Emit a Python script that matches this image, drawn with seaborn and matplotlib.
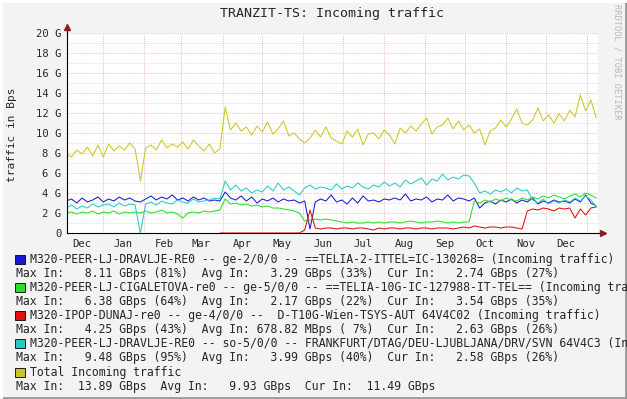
import numpy as np
import pandas as pd
import seaborn as sns
import matplotlib.pyplot as plt
from matplotlib.lines import Line2D
from matplotlib.patches import Rectangle

nan = np.nan

# one sample every 4 days, values in GBps
dates = pd.date_range('2012-12-04', periods=101, freq='4D')

blue = [3.2, 3.4, 3.0, 3.5, 3.1, 3.3, 3.6, 3.1, 3.4, 3.2, 3.6, 3.3, 3.5, 3.2, 3.1, 3.4, 3.7, 3.3, 3.6, 3.4,
        3.8, 3.3, 3.5, 3.2, 3.6, 3.3, 3.5, 3.2, 3.3,
        3.2, 4.1, 3.5, 3.3, 3.7, 3.2, 3.6, 3.0, 3.4, 3.2, 3.5, 3.1, 3.4, 3.2, 3.3, 3.0, 3.2, 0.4, 3.1, 3.4,
        3.2, 3.8,
        3.1, 3.3, 2.9, 3.5, 3.0, 3.7, 3.2, 3.3, 3.1, 3.4, 3.3, 3.5, 3.3, 3.9, 3.2, 3.4, 3.3, 3.6, 3.1, 3.4,
        3.3, 3.8, 3.2, 3.5, 3.4, 3.2, 3.5,
        2.5, 3.0, 3.2, 2.9, 3.3, 3.1, 3.4, 3.0, 3.3, 3.1, 3.5, 2.9, 3.2, 3.0, 3.3, 3.1, 3.2, 3.0, 3.4, 3.1,
        3.8, 3.0, 2.7]

green = [2.0, 2.1, 1.9, 2.1, 2.0, 2.2, 1.9, 2.1, 2.0, 2.2, 1.9, 2.1, 2.0, 2.1, 2.0, 2.2, 2.0, 2.1, 2.3, 2.0,
         2.1, 1.9, 1.5, 2.0, 2.1, 2.0, 2.2, 2.1, 2.2,
         2.3, 3.4, 2.9, 3.0, 2.8, 2.9, 2.7, 2.8, 2.6, 2.7, 2.5, 2.5, 2.4, 2.3, 2.2, 2.0, 1.2, 1.3, 1.4, 1.3,
         1.4, 1.3, 1.2, 1.1,
         1.0, 1.1, 1.0, 1.0, 1.1, 1.0, 1.1, 1.0, 1.1, 1.1, 1.0, 1.1, 1.2, 1.1, 1.0, 1.1, 1.1, 1.2, 1.1, 1.0,
         1.1, 1.0, 1.1, 1.1,
         3.2, 3.0, 3.3, 3.1, 3.4, 3.2, 3.5, 3.3, 3.2, 3.5, 3.3, 3.6, 3.4, 3.7, 3.5, 3.8, 3.6, 3.4, 3.7, 3.9,
         3.6, 4.0, 3.8, 3.5]

red = [nan, nan, nan, nan, nan, nan, nan, nan, nan, nan, nan, nan, nan, nan, nan, nan, nan, nan, nan, nan,
       nan, nan, nan, nan, nan, nan, nan, nan, nan,
       0.0, 0.0, 0.0, 0.0, 0.0, 0.0, 0.0, 0.0, 0.0, 0.0, 0.0, 0.0, 0.0, 0.0, 0.0, 0.0,
       0.3, 2.3,
       0.5, 0.4, 0.5, 0.5, 0.4, 0.5, 0.5, 0.4, 0.5, 0.5, 0.4, 0.3, 0.5, 0.4, 0.5, 0.5, 0.4, 0.5, 0.5, 0.4,
       0.5, 0.5, 0.4, 0.5, 0.5, 0.5, 0.4, 0.5, 0.6, 0.5, 0.7, 0.6, 0.5, 0.6, 0.6, 0.5, 0.6, 0.6, 0.5, 0.4,
       2.2, 2.4, 2.3, 2.5, 2.4, 2.2, 2.5, 2.4, 2.5, 1.5, 2.4, 1.8, 2.5, 2.6]

cyan = [2.5, 2.8, 2.4, 2.7, 2.5, 2.9, 2.6, 2.8, 2.9, 2.6, 3.0, 2.7, 2.9, 2.8,
        0.0,
        2.9, 3.1, 2.8, 3.2, 3.0, 2.9, 3.3, 3.1, 3.0, 3.4, 3.1, 3.2, 3.3, 3.5,
        3.4, 5.2, 4.3, 4.8, 4.2, 4.5, 4.0, 4.3, 4.1, 4.7, 4.2, 5.0, 4.3, 4.6, 4.2, 3.8, 4.5, 4.8, 4.4, 4.6,
        4.5, 4.3,
        4.9, 4.4, 4.7, 4.5, 5.0, 4.6, 4.4, 4.8, 4.6, 5.1, 4.7, 5.0, 4.6, 5.3, 4.9, 5.2, 5.5, 4.8, 5.4, 5.2,
        5.9, 5.3, 5.6, 5.4, 5.8, 5.7,
        5.0, 4.0, 4.2, 3.9, 4.3, 4.1, 4.4, 4.0, 4.5, 4.2, 4.3, 3.3, 3.0, 3.4, 2.9, 3.2, 3.0, 3.3, 3.1, 3.5,
        3.2, 3.7, 3.3, 2.6]

total = [8.0, 7.6, 8.3, 7.9, 8.6, 7.7, 8.8, 7.6, 8.9, 8.2, 8.7, 8.3, 9.0, 8.4,
         5.2,
         8.5, 8.8, 8.3, 9.3, 8.5, 8.9, 8.6, 9.1, 8.4, 9.3, 8.7, 8.2, 8.9, 8.0,
         8.4,
         12.6, 10.3, 11.0, 10.2, 10.6, 9.8, 10.7, 10.1, 11.1, 9.9, 10.4, 11.2, 9.7, 10.0, 9.4, 9.0, 9.5,
         10.3, 9.6, 10.6, 9.5,
         9.2, 8.9, 10.2, 9.6, 10.4, 8.8, 9.9, 10.0, 9.4, 10.3, 9.8, 8.9, 10.5, 10.0, 10.7, 10.2, 10.9, 11.5,
         9.9, 10.6, 10.8, 11.5, 10.4, 11.2, 10.3, 10.8,
         10.0, 10.4, 8.8, 10.2, 10.5, 11.3, 10.6, 11.4, 12.4, 11.0, 10.8, 11.3, 12.5, 11.2, 11.8, 11.0,
         11.9, 11.2, 12.3, 11.6, 13.8, 12.2, 13.3, 11.5]

for s in (blue, green, red, cyan, total):
    assert len(s) == len(dates), len(s)

series_names = ['dravlje_ge', 'cigaletova', 'dunaj', 'dravlje_so', 'total']
series_colors = ['#1818D8', '#2ADD2A', '#E01010', '#2CC8C8', '#CCC624']

legend_labels = [
    "M320-PEER-LJ-DRAVLJE-RE0 -- ge-2/0/0 -- ==TELIA-2-ITTEL=IC-130268= (Incoming traffic)",
    "M320-PEER-LJ-CIGALETOVA-re0 -- ge-5/0/0 -- ==TELIA-10G-IC-127988-IT-TEL== (Incoming traffic)",
    "M320-IPOP-DUNAJ-re0 -- ge-4/0/0 --  D-T10G-Wien-TSYS-AUT 64V4C02 (Incoming traffic)",
    "M320-PEER-LJ-DRAVLJE-RE0 -- so-5/0/0 -- FRANKFURT/DTAG/DEU-LJUBLJANA/DRV/SVN 64V4C3 (Incoming traffic)",
    "Total Incoming traffic",
]
legend_stats = [
    "Max In:   8.11 GBps (81%)  Avg In:   3.29 GBps (33%)  Cur In:   2.74 GBps (27%)",
    "Max In:   6.38 GBps (64%)  Avg In:   2.17 GBps (22%)  Cur In:   3.54 GBps (35%)",
    "Max In:   4.25 GBps (43%)  Avg In: 678.82 MBps ( 7%)  Cur In:   2.63 GBps (26%)",
    "Max In:   9.48 GBps (95%)  Avg In:   3.99 GBps (40%)  Cur In:   2.58 GBps (26%)",
    "Max In:  13.89 GBps  Avg In:   9.93 GBps  Cur In:  11.49 GBps",
]

month_labels = ['Dec', 'Jan', 'Feb', 'Mar', 'Apr', 'May', 'Jun', 'Jul', 'Aug', 'Sep', 'Oct', 'Nov', 'Dec']
y_ticks = [0, 2, 4, 6, 8, 10, 12, 14, 16, 18, 20]
y_tick_labels = ['0', '2 G', '4 G', '6 G', '8 G', '10 G', '12 G', '14 G', '16 G', '18 G', '20 G']

# long format for seaborn
df = pd.DataFrame({'date': dates, 'dravlje_ge': blue, 'cigaletova': green, 'dunaj': red,
                   'dravlje_so': cyan, 'total': total})
df = df.melt(id_vars='date', var_name='series', value_name='gbps')

sns.set_style("white")
plt.rcParams['font.family'] = ['DejaVu Sans Mono']

W, H = 627, 399
fig = plt.figure(figsize=(W / 100, H / 100), dpi=100, facecolor='#F3F3F3')
ax = fig.add_axes([67 / W, 1 - 233 / H, 531 / W, 200 / H])
ax.set_facecolor('white')

sns.lineplot(data=df, x='date', y='gbps', hue='series', hue_order=series_names,
             palette=series_colors, linewidth=0.75, legend=False, errorbar=None, ax=ax)

ax.set_xlim(pd.Timestamp('2012-12-04 15:00'), pd.Timestamp('2014-01-09 08:00'))
ax.set_ylim(0, 20)
ax.set_xlabel('')
ax.set_ylabel('')

# month labels mid month, grid at month start
mid_months = pd.date_range('2012-12-01', periods=13, freq='MS') + pd.Timedelta(days=15)
ax.set_xticks(mid_months)
ax.set_xticklabels(month_labels, fontsize=7.6)
ax.set_xticks(pd.date_range('2013-01-01', '2014-01-01', freq='MS'), minor=True)
ax.set_yticks(y_ticks)
ax.set_yticklabels(y_tick_labels, fontsize=7.6)
ax.set_yticks(range(1, 20, 2), minor=True)
ax.tick_params(which='both', length=0)
ax.tick_params(axis='y', pad=4)
ax.tick_params(axis='x', pad=4)

dots = (0, (1, 1.5))
ax.yaxis.grid(True, which='major', color='#E8A8A8', linestyle=dots, linewidth=0.6)
ax.yaxis.grid(True, which='minor', color='#D0D0D0', linestyle=dots, linewidth=0.6)
ax.xaxis.grid(True, which='minor', color='#E8A8A8', linestyle=dots, linewidth=0.6)
ax.xaxis.grid(False, which='major')
ax.set_axisbelow(True)

for side in ['top', 'right']:
    ax.spines[side].set_visible(False)
for side in ['left', 'bottom']:
    ax.spines[side].set_color('black')
    ax.spines[side].set_linewidth(0.8)

# axis arrows
ax.plot([0, 0], [1, 1.03], color='black', lw=0.8, transform=ax.transAxes, clip_on=False)
ax.plot([1, 1.009], [0, 0], color='black', lw=0.8, transform=ax.transAxes, clip_on=False)
ax.plot(0, 1.03, marker='^', ms=4, color='#8B2020', transform=ax.transAxes, clip_on=False)
ax.plot(1.009, 0, marker='>', ms=4, color='#8B2020', transform=ax.transAxes, clip_on=False)

fig.text(332 / W, 1 - 13 / H, 'TRANZIT-TS: Incoming traffic', ha='center', va='center', fontsize=9.6)
fig.text(12 / W, 1 - 135 / H, 'traffic in Bps', rotation=90, ha='center', va='center', fontsize=8)
fig.text(617 / W, 1 - 62 / H, 'RRDTOOL / TOBI OETIKER', rotation=270, ha='center', va='center',
         fontsize=6.2, color='#B8B8B8')

# legend block
for k, (lab, st, col) in enumerate(zip(legend_labels, legend_stats, series_colors)):
    y1 = 259 + 28.3 * k
    y2 = y1 + 14.1
    fig.add_artist(Rectangle((15.5 / W, 1 - (y1 + 4.5) / H), 9 / W, 9 / H, transform=fig.transFigure,
                             facecolor=col, edgecolor='black', lw=0.6))
    fig.text(30 / W, 1 - y1 / H, lab, ha='left', va='center', fontsize=8.3)
    fig.text(16 / W, 1 - y2 / H, st, ha='left', va='center', fontsize=8.3)

# frame
fig.add_artist(Line2D([0, 1], [0.003, 0.003], transform=fig.transFigure, color='#9A9A9A', lw=2))
fig.add_artist(Line2D([0.998, 0.998], [0, 1], transform=fig.transFigure, color='#9A9A9A', lw=2))
fig.add_artist(Line2D([0, 1], [0.998, 0.998], transform=fig.transFigure, color='#FFFFFF', lw=2))
fig.add_artist(Line2D([0.002, 0.002], [0, 1], transform=fig.transFigure, color='#FFFFFF', lw=2))

fig.savefig('out.png', dpi=100, facecolor=fig.get_facecolor())
